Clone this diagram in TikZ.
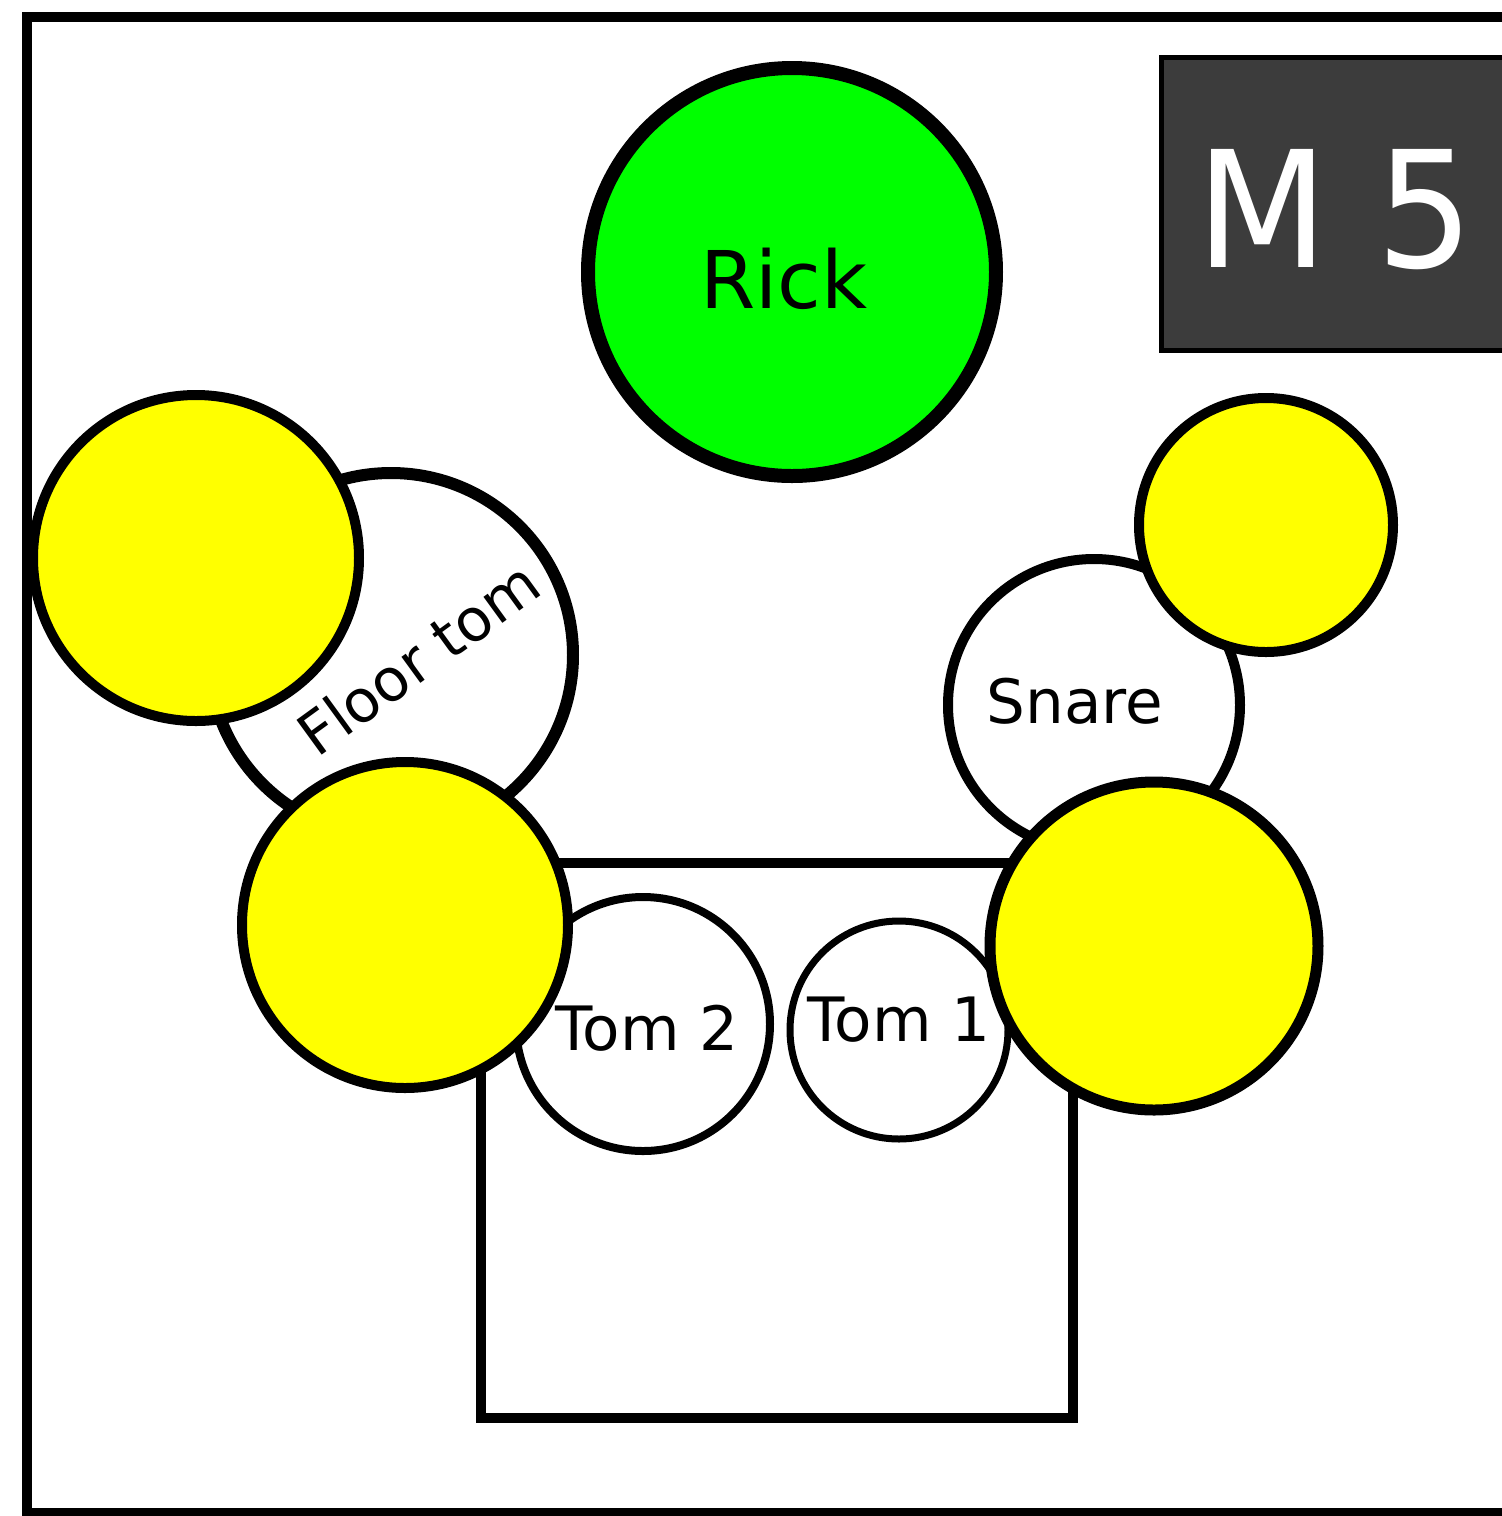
\documentclass[tikz,border=0pt]{standalone}
\usepackage{fontspec}
\setmainfont{DejaVu Sans}
\definecolor{rickgreen}{HTML}{00FF00}
\definecolor{padyellow}{HTML}{FFFF00}
\definecolor{mgray}{HTML}{3C3C3C}
\begin{document}
\begin{tikzpicture}[x=0.02cm,y=-0.02cm]
\tikzset{
  lw/.style={line width=#1*0.569pt},
  disc/.style={circle, draw=black, fill=white, inner sep=0pt, minimum size=2*#1*0.02cm},
  pad/.style={disc=#1, fill=padyellow},
  lbl/.style={anchor=base, inner sep=0pt, font=\fontsize{34.8}{40}\selectfont},
}
\useasboundingbox (0,0) rectangle (1502,1516);
\fill[white] (0,0) rectangle (1502,1516);
% stage frame
\draw[lw=10] (27,17) rectangle (1545,1513);
% monitor box
\draw[lw=5, fill=mgray] (1161,57.5) rectangle (1545,350.5);
\node[anchor=base, inner sep=0pt, text=white, yscale=1.06, font=\fontsize{87}{100}\selectfont] (m5) at (1335,267) {M 5};
% Rick
\node[disc=204, fill=rickgreen, lw=14] (rick) at (792,272) {};
% floor tom and cymbal
\node[disc=182, lw=12] (floortom) at (391,655) {};
\node[pad=163, lw=10] (cymTL) at (196,558) {};
% riser
\draw[lw=10, fill=white] (481,863) rectangle (1073,1418);
% toms and snare
\node[disc=127, lw=8] (tom2) at (643,1024) {};
\node[disc=109, lw=7] (tom1) at (899,1030) {};
\node[disc=146, lw=10] (snare) at (1094,705) {};
\node[pad=127, lw=10] (cymTR) at (1266,525) {};
\node[pad=163, lw=10] (cymML) at (405,925) {};
\node[pad=164, lw=11] (cymR) at (1154,946) {};
% labels
\node[lbl, font=\fontsize{45.3}{50}\selectfont] (ricklbl) at (784,308) {Rick};
\node[lbl, font=\fontsize{33.5}{40}\selectfont, rotate=36] (floorlbl) at (431,676) {Floor tom};
\node[lbl] (snarelbl) at (1075,723) {Snare};
\node[lbl] (tom2lbl) at (647,1050) {Tom 2};
\node[lbl] (tom1lbl) at (899,1041) {Tom 1};
\end{tikzpicture}
\end{document}
